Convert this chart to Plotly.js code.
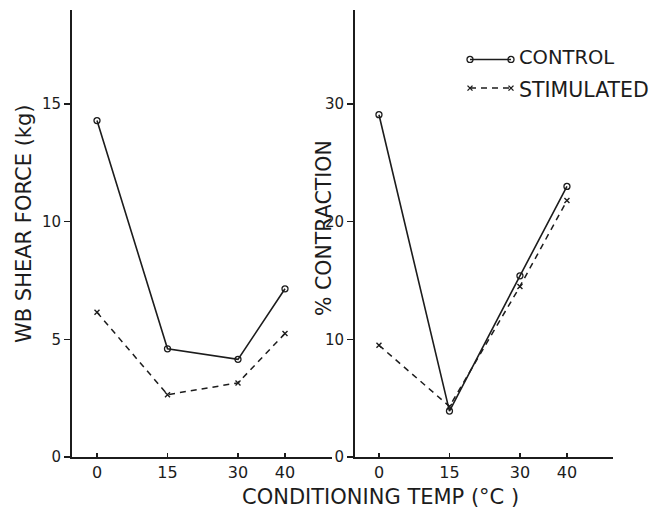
<!DOCTYPE html>
<html>
<head>
<meta charset="utf-8">
<script src="https://cdn.plot.ly/plotly-3.0.1.min.js"></script>
<style>
  html, body { margin: 0; padding: 0; background: #fff; }
  #chart { width: 654px; height: 515px; }
</style>
</head>
<body>
<div id="chart"></div>
<script>
// Conditioning temperatures (°C)
const temps = [0, 15, 30, 40];
const tickLabels = ['0', '15', '30', '40'];

// Warner-Bratzler shear force (kg)
const shearControl = [14.3, 4.6, 4.15, 7.15];
const shearStimulated = [6.15, 2.65, 3.15, 5.25];

// Contraction (%)
const contrControl = [29.1, 3.9, 15.4, 23.0];
const contrStimulated = [9.5, 4.3, 14.5, 21.8];

const seriesNames = ['CONTROL', 'STIMULATED'];

const W = 654, H = 515;
const px = v => v / W;          // horizontal pixel -> paper
const py = v => 1 - v / H;      // vertical pixel -> paper

const ink = '#1c1c1c';
const font = 'DejaVu Sans, sans-serif';

const controlStyle = {
  mode: 'lines+markers',
  line: { color: ink, width: 1.6, dash: 'solid' },
  marker: { symbol: 'circle-open', size: 6, color: ink, line: { width: 1.3, color: ink } }
};
const stimStyle = {
  mode: 'lines+markers',
  line: { color: ink, width: 1.5, dash: '6px,5px' },
  marker: { symbol: 'x-thin-open', size: 5, color: ink, line: { width: 1.4, color: ink } }
};

const traces = [
  Object.assign({ x: temps, y: shearControl, xaxis: 'x', yaxis: 'y', name: seriesNames[0] }, controlStyle),
  Object.assign({ x: temps, y: shearStimulated, xaxis: 'x', yaxis: 'y', name: seriesNames[1] }, stimStyle),
  Object.assign({ x: temps, y: contrControl, xaxis: 'x2', yaxis: 'y2', name: seriesNames[0] }, controlStyle),
  Object.assign({ x: temps, y: contrStimulated, xaxis: 'x2', yaxis: 'y2', name: seriesNames[1] }, stimStyle),
  // legend keys, drawn on a pixel-scaled overlay axis
  Object.assign({ x: [470, 511], y: [57, 57], xaxis: 'x3', yaxis: 'y3', name: seriesNames[0] }, controlStyle),
  Object.assign({ x: [470, 511], y: [90, 90], xaxis: 'x3', yaxis: 'y3', name: seriesNames[1] }, stimStyle)
];

const yDomain = [py(457), py(10)];

const xCommon = {
  tickmode: 'array', tickvals: temps, ticktext: tickLabels,
  ticks: 'inside', ticklen: 4, tickwidth: 1.3, tickcolor: ink,
  showline: true, linecolor: ink, linewidth: 2,
  showgrid: false, zeroline: false,
  tickfont: { family: font, size: 16, color: ink },
  fixedrange: true
};
const yCommon = {
  ticks: 'outside', ticklen: 6, tickwidth: 1.3, tickcolor: ink,
  showline: true, linecolor: ink, linewidth: 2,
  showgrid: false, zeroline: false,
  tickfont: { family: font, size: 15, color: ink },
  ticklabelstandoff: 0,
  domain: yDomain,
  fixedrange: true
};

const layout = {
  width: W, height: H,
  margin: { l: 0, r: 0, t: 0, b: 0 },
  paper_bgcolor: '#fff', plot_bgcolor: 'rgba(0,0,0,0)',
  showlegend: false,
  xaxis: Object.assign({}, xCommon, { domain: [px(72), px(332)], range: [-5.32, 50.0], anchor: 'y' }),
  yaxis: Object.assign({}, yCommon, { range: [0, 19.0], tickvals: [0, 5, 10, 15], anchor: 'x' }),
  xaxis2: Object.assign({}, xCommon, { domain: [px(355), px(613)], range: [-5.1, 49.8], anchor: 'y2' }),
  yaxis2: Object.assign({}, yCommon, { range: [0, 38.0], tickvals: [0, 10, 20, 30], anchor: 'x2' }),
  xaxis3: { domain: [0, 1], range: [0, W], visible: false, fixedrange: true, anchor: 'y3' },
  yaxis3: { domain: [0, 1], range: [H, 0], visible: false, fixedrange: true, anchor: 'x3', overlaying: 'y' },
  annotations: [
    { text: 'WB SHEAR FORCE (kg)', textangle: -90, xref: 'paper', yref: 'paper',
      x: px(24), y: py(224), xanchor: 'center', yanchor: 'middle', showarrow: false,
      font: { family: font, size: 21, color: ink } },
    { text: '% CONTRACTION', textangle: -90, xref: 'paper', yref: 'paper',
      x: px(324), y: py(228), xanchor: 'center', yanchor: 'middle', showarrow: false,
      font: { family: font, size: 20.5, color: ink } },
    { text: 'CONDITIONING TEMP (°C )', xref: 'paper', yref: 'paper',
      x: px(380), y: py(497), xanchor: 'center', yanchor: 'middle', showarrow: false,
      font: { family: font, size: 21, color: ink } },
    { text: seriesNames[0], xref: 'paper', yref: 'paper',
      x: px(517), y: py(57), xanchor: 'left', yanchor: 'middle', showarrow: false,
      font: { family: font, size: 19.5, color: ink } },
    { text: seriesNames[1], xref: 'paper', yref: 'paper',
      x: px(517), y: py(90), xanchor: 'left', yanchor: 'middle', showarrow: false,
      font: { family: font, size: 20.5, color: ink } }
  ]
};

Plotly.newPlot('chart', traces, layout, { staticPlot: true, displayModeBar: false });
</script>
</body>
</html>
